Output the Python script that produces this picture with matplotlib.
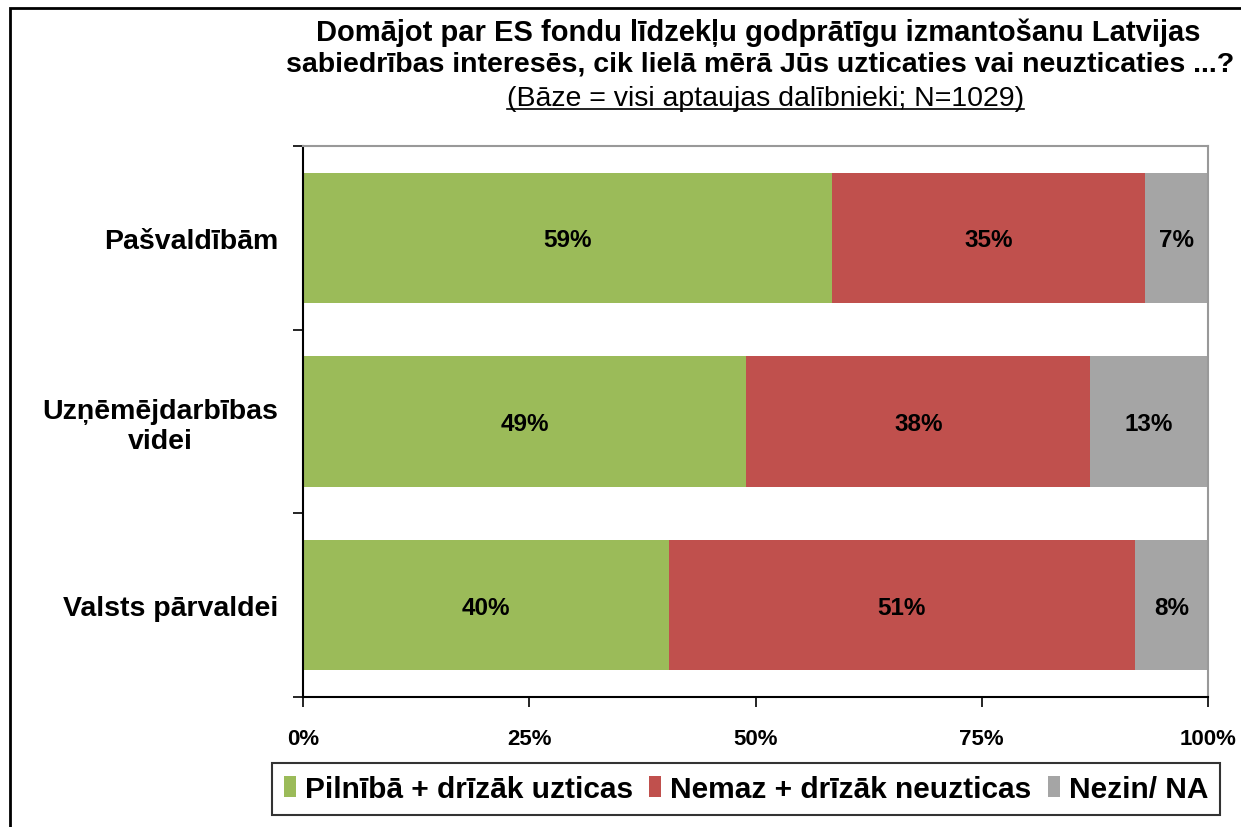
import numpy as np
import matplotlib.pyplot as plt
from matplotlib.patches import Rectangle
from matplotlib.lines import Line2D

plt.rcParams['font.family'] = ['Liberation Sans', 'DejaVu Sans']

categories = ['Pašvaldībām', 'Uzņēmējdarbības\nvidei', 'Valsts pārvaldei']
trust = [59, 49, 40]
distrust = [35, 38, 51]
dont_know = [7, 13, 8]
series_names = ['Pilnībā + drīzāk uzticas', 'Nemaz + drīzāk neuzticas', 'Nezin/ NA']
colors = ['#9BBB59', '#C0504D', '#A5A5A5']
xticks = [0, 0.25, 0.5, 0.75, 1.0]
xtick_labels = ['0%', '25%', '50%', '75%', '100%']

fig = plt.figure(figsize=(12.41, 8.28), dpi=100)
ax = fig.add_axes([0.2442, 0.157, 0.7292, 0.6655])

# outer chart frame (runs off the right and bottom edges)
fig.patches.append(Rectangle((10 / 1241, -0.05), 1.2, 1 - 9 / 828 + 0.05,
                             transform=fig.transFigure, fill=False,
                             edgecolor='black', linewidth=2))

data = np.array([trust, distrust, dont_know], dtype=float)
shares = data / data.sum(axis=0)
y = np.arange(len(categories))
left = np.zeros(len(categories))
for vals, sh, name, c in zip(data, shares, series_names, colors):
    ax.barh(y, sh, left=left, height=0.71, color=c, label=name)
    for yi, li, si, v in zip(y, left, sh, vals):
        ax.text(li + si / 2, yi + 0.01, f'{v:.0f}%', ha='center', va='center',
                fontsize=17.5, fontweight='bold')
    left += sh

ax.set_xlim(0, 1)
ax.set_ylim(2.5, -0.5)
ax.set_xticks(xticks)
ax.set_xticklabels(xtick_labels, fontsize=16, fontweight='bold')
ax.tick_params(axis='x', direction='out', length=7, width=1.2, pad=15)
ax.set_yticks(y)
ax.set_yticklabels(categories, fontsize=20.5, fontweight='bold',
                   multialignment='center', linespacing=1.2)
ax.set_yticks([-0.5, 0.5, 1.5, 2.5], minor=True)
ax.tick_params(axis='y', which='major', length=0, pad=18)
ax.tick_params(axis='y', which='minor', direction='out', length=7, width=1.2)

for side in ['top', 'right']:
    ax.spines[side].set_color('#999999')
    ax.spines[side].set_linewidth(1.5)
for side in ['left', 'bottom']:
    ax.spines[side].set_color('black')
    ax.spines[side].set_linewidth(1.5)

fig.text(0.611, 0.960, 'Domājot par ES fondu līdzekļu godprātīgu izmantošanu Latvijas',
         ha='center', va='center', fontsize=21, fontweight='bold')
fig.text(0.6124, 0.9215, 'sabiedrības interesēs, cik lielā mērā Jūs uzticaties vai neuzticaties ...?',
         ha='center', va='center', fontsize=20.5, fontweight='bold')
sub = fig.text(0.617, 0.880, '(Bāze = visi aptaujas dalībnieki; N=1029)',
               ha='center', va='center', fontsize=20.5)

# underline the base note
fig.canvas.draw()
bb = sub.get_window_extent().transformed(fig.transFigure.inverted())
fig.lines.append(Line2D([bb.x0, bb.x1], [bb.y0 + 0.003, bb.y0 + 0.003],
                        transform=fig.transFigure, color='black', linewidth=1.2))

leg = fig.legend(loc='center', bbox_to_anchor=(0.601, 0.046), ncol=3,
                 prop={'size': 21.5, 'weight': 'bold'}, frameon=True,
                 fancybox=False, edgecolor='black', handlelength=0.4,
                 handleheight=0.7, handletextpad=0.3, columnspacing=0.55,
                 borderpad=0.4, borderaxespad=0)
leg.get_frame().set_linewidth(1.5)

fig.savefig('out.png', dpi=100)
